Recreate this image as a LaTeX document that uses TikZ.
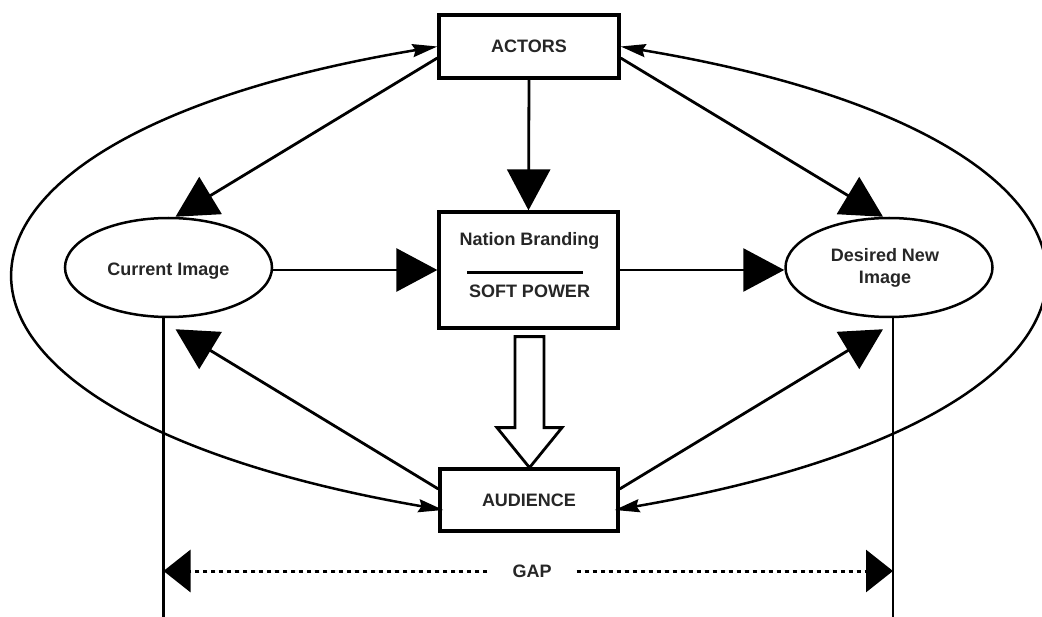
\documentclass[tikz,border=0pt]{standalone}
\usepackage{fontspec}
\setmainfont{Liberation Sans}
\usetikzlibrary{arrows.meta,calc,shapes.geometric}
\begin{document}
\begin{tikzpicture}[x=1pt,y=-1pt,
  lbl/.style={font=\fontsize{18}{22}\selectfont\bfseries, text=black!85, inner sep=0pt},
  boxnode/.style={draw, line width=3.3pt, rectangle, inner sep=0pt, font=\fontsize{18}{22}\selectfont\bfseries, text=black!85},
  ellnode/.style={draw, line width=2.5pt, ellipse, inner sep=0pt, minimum width=207pt, minimum height=99pt},
  bigarrow/.style={line width=2.8pt, -{Triangle[length=41pt,width=43pt]}},
  outerarc/.style={line width=2.5pt, {Stealth[length=25pt,width=13pt,inset=3pt]}-{Stealth[length=25pt,width=13pt,inset=3pt]}},
  vline/.style={line width=2.8pt},
  gapline/.style={line width=3pt, dash pattern=on 4pt off 4pt, -{Triangle[length=27pt,width=42pt]}},
  hollowarrow/.style={line width=2.8pt, fill=white, line join=miter}
]
\useasboundingbox[fill=white] (0,0) rectangle (1042,617);

% boxes
\node[boxnode, minimum width=180pt, minimum height=63pt] (actors) at (529,46.5) {ACTORS};
\node[boxnode, minimum width=179pt, minimum height=116pt] (nb) at (528.5,270) {};
\node[boxnode, minimum width=178pt, minimum height=62pt] (aud) at (529,500) {AUDIENCE};
\node[ellnode] (cur) at (168.5,267.5) {};
\node[ellnode] (des) at (889,267.5) {};

% labels
\node[lbl, anchor=base] (curt) at ($(cur.center)+(0,8.5)$) {Current Image};
\node[lbl, anchor=base] (dest1) at ($(des.center)+(-4,-5.5)$) {Desired New};
\node[lbl, anchor=base] (dest2) at ($(des.center)+(-4,16.5)$) {Image};
\node[lbl, anchor=base] (nbt) at ($(nb.center)+(1,-24)$) {Nation Branding};
\node[lbl, anchor=base] (spt) at ($(nb.center)+(1,28)$) {SOFT POWER};
\draw[line width=3pt] ($(nb.center)+(-61.5,3)$) -- ($(nb.center)+(54.5,3)$);

% straight arrows
\draw[bigarrow] ($(actors.west)+(0,11.5)$) -- ($(cur.north)+(7,0)$);
\draw[bigarrow] ($(actors.east)+(0,11.5)$) -- ($(des.north)+(-6,0)$);
\draw[bigarrow] (actors.south) -- (nb.north);
\draw[bigarrow] (cur.east |- nb.west) -- (nb.west);
\draw[bigarrow] (nb.east) -- (des.west |- nb.east);
\draw[bigarrow] ($(aud.west)+(0,-11)$) -- ($(cur.south)+(7,11)$);
\draw[bigarrow] ($(aud.east)+(0,-11)$) -- ($(des.south)+(-6,11)$);

% hollow arrow
\draw[hollowarrow, shift={(nb.south)}] (-13.5,7) -- (15.5,7) -- (15.5,98) -- (33.5,98) -- (1,138) -- (-31.5,98) -- (-13.5,98) -- cycle;

% outer arcs
\draw[outerarc] ($(aud.west)+(5,10)$) .. controls (-125,412) and (-125,140) .. (actors.west);
\draw[outerarc] (actors.east) .. controls (1183,140) and (1183,412) .. ($(aud.east)+(-5,10)$);

% gap lines
\coordinate (lb) at (163.5,617);
\coordinate (rb) at (893,617);
\draw[vline] ($(cur.south)+(-5,0)$) -- (lb);
\draw[vline] ($(des.south)+(4,0)$) -- (rb);
\node[lbl, inner xsep=25pt] (gap) at (532,571) {GAP};
\draw[gapline] (gap.west) -- (lb |- gap.west);
\draw[gapline] (gap.east) -- (rb |- gap.east);
\end{tikzpicture}
\end{document}
